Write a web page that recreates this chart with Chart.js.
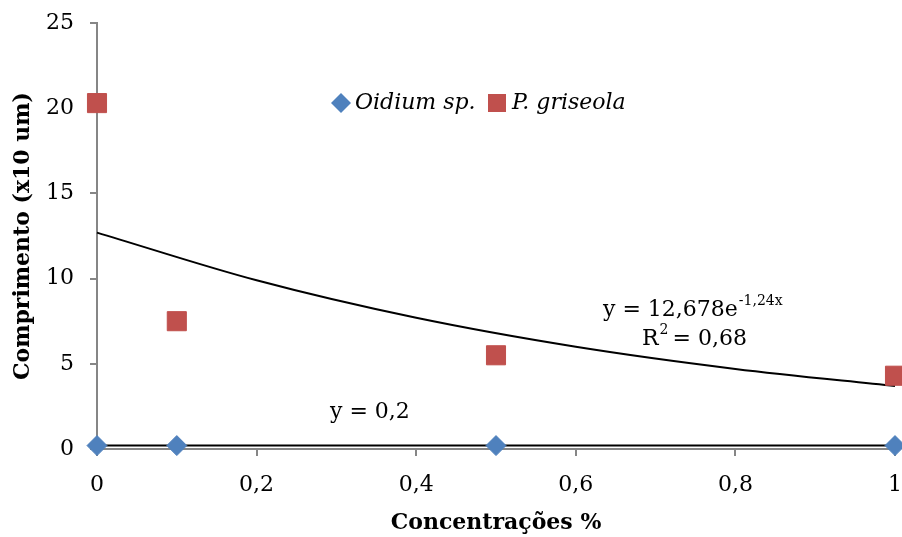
<!DOCTYPE html>
<html>
<head>
<meta charset="utf-8">
<script src="https://cdn.jsdelivr.net/npm/chart.js@4/dist/chart.umd.min.js"></script>
<style>
  html, body { margin: 0; padding: 0; background: #fff; overflow: hidden; }
  #wrap { width: 902px; height: 537px; }
</style>
</head>
<body>
<div id="wrap"><canvas id="chart"></canvas></div>
<script>
// concentrations (x) and measured lengths
const concentracoes = [0, 0.1, 0.5, 1];
const oidium = [0.2, 0.2, 0.2, 0.2];
const griseola = [20.3, 7.5, 5.5, 4.3];

// exponential trendline
const trendX = [0, 0.2, 0.4, 0.6, 0.8, 1];
const trendY = [12.7, 9.9, 7.7, 6.0, 4.7, 3.7];

// constant trendline y = 0,2
const flatX = [0, 1];
const flatY = [0.2, 0.2];

const xTicks = [0, 0.2, 0.4, 0.6, 0.8, 1];
const yTicks = [0, 5, 10, 15, 20, 25];

const serif = "'DejaVu Serif', 'Liberation Serif', serif";
const blue = '#4F81BD';
const red = '#C0504D';
const axisGray = '#868686';

const toPts = (xs, ys) => xs.map((x, i) => ({ x: x, y: ys[i] }));

// the layout keeps a wide right margin for the last tick label; pull plot edge out to match
const fixRight = {
  id: 'fixRight',
  afterLayout(chart) {
    const xs = chart.scales.x, a = chart.chartArea;
    const right = chart.width - 7;
    if (Math.abs(a.right - right) > 0.5) {
      a.right = right;
      a.width = right - a.left;
      xs.right = right;
      xs.width = right - xs.left;
      xs.configure();
      xs._labelItems = null;
      xs._gridLineItems = null;
    }
  }
};

// legend + equation labels drawn in the plot area
const overlay = {
  id: 'overlay',
  afterDraw(chart) {
    const c = chart.ctx;
    c.save();
    c.textBaseline = 'middle';
    c.textAlign = 'left';

    // legend
    const ly = 103;
    c.fillStyle = blue;
    c.beginPath();
    c.moveTo(331, ly); c.lineTo(341, ly - 10); c.lineTo(351, ly); c.lineTo(341, ly + 10);
    c.closePath(); c.fill();
    c.fillStyle = red;
    c.fillRect(488, ly - 9, 18, 18);
    c.fillStyle = '#000';
    c.font = 'italic 22px ' + serif;
    c.fillText('Oidium sp.', 355, ly);
    c.fillText('P. griseola', 512, ly);

    // exponential equation
    c.font = '22px ' + serif;
    const base = 'y = 12,678e';
    const ey = 310;
    c.fillText(base, 603, ey);
    const w = c.measureText(base).width;
    c.font = '14px ' + serif;
    c.fillText('-1,24x', 603 + w + 1, ey - 9);

    c.font = '22px ' + serif;
    c.fillText('R', 642, 339);
    const rw = c.measureText('R').width;
    c.font = '14px ' + serif;
    c.fillText('2', 642 + rw + 1, 330);
    c.font = '22px ' + serif;
    c.fillText(' = 0,68', 642 + rw + 7, 339);

    c.fillText('y = 0,2', 330, 412);
    c.restore();
  }
};

new Chart(document.getElementById('chart'), {
  type: 'scatter',
  data: {
    datasets: [
      {
        label: 'y = 0,2',
        data: toPts(flatX, flatY),
        showLine: true,
        borderColor: '#000',
        borderWidth: 2,
        pointRadius: 0,
        order: 3
      },
      {
        label: 'Exponencial',
        data: toPts(trendX, trendY),
        showLine: true,
        borderColor: '#000',
        borderWidth: 2,
        pointRadius: 0,
        cubicInterpolationMode: 'monotone',
        order: 3
      },
      {
        label: 'Oidium sp.',
        data: toPts(concentracoes, oidium),
        backgroundColor: blue,
        borderColor: blue,
        pointStyle: 'rectRot',
        pointRadius: 10,
        pointHoverRadius: 10,
        order: 1
      },
      {
        label: 'P. griseola',
        data: toPts(concentracoes, griseola),
        backgroundColor: red,
        borderColor: red,
        pointStyle: 'rect',
        pointRadius: 13.5,
        pointHoverRadius: 13.5,
        order: 2
      }
    ]
  },
  options: {
    responsive: true,
    maintainAspectRatio: false,
    animation: false,
    clip: false,
    layout: { padding: { top: 23, right: 7, left: 0, bottom: 0 } },
    plugins: {
      legend: { display: false },
      tooltip: { enabled: false }
    },
    scales: {
      x: {
        type: 'linear',
        min: 0,
        max: 1,
        afterBuildTicks: (s) => { s.ticks = xTicks.map(v => ({ value: v })); },
        afterFit: (s) => { s.height = 88; s.paddingLeft = 0; s.paddingRight = 0; },
        grid: { display: true, drawOnChartArea: false, drawTicks: true, tickLength: 7, color: axisGray, tickColor: axisGray, lineWidth: 2 },
        border: { display: true, color: axisGray, width: 2 },
        ticks: {
          color: '#000',
          font: { family: serif, size: 22, lineHeight: 2.0 },
          padding: 7,
          maxRotation: 0,
          callback: (v) => String(v).replace('.', ',')
        },
        title: {
          display: true,
          text: 'Concentrações %',
          color: '#000',
          font: { family: serif, size: 22, weight: 'bold' },
          padding: { top: 1, bottom: 1 }
        }
      },
      y: {
        min: 0,
        max: 25,
        afterBuildTicks: (s) => { s.ticks = yTicks.map(v => ({ value: v })); },
        afterFit: (s) => { s.width = 97; s.paddingTop = 0; s.paddingBottom = 0; },
        grid: { display: true, drawOnChartArea: false, drawTicks: true, tickLength: 7, color: axisGray, tickColor: axisGray, lineWidth: 2 },
        border: { display: true, color: axisGray, width: 2 },
        ticks: {
          color: '#000',
          font: { family: serif, size: 22 },
          padding: 16
        },
        title: {
          display: true,
          text: 'Comprimento (x10 um)',
          color: '#000',
          font: { family: serif, size: 22, weight: 'bold' },
          padding: { top: 10, bottom: 10 }
        }
      }
    }
  },
  plugins: [fixRight, overlay]
});
</script>
</body>
</html>
